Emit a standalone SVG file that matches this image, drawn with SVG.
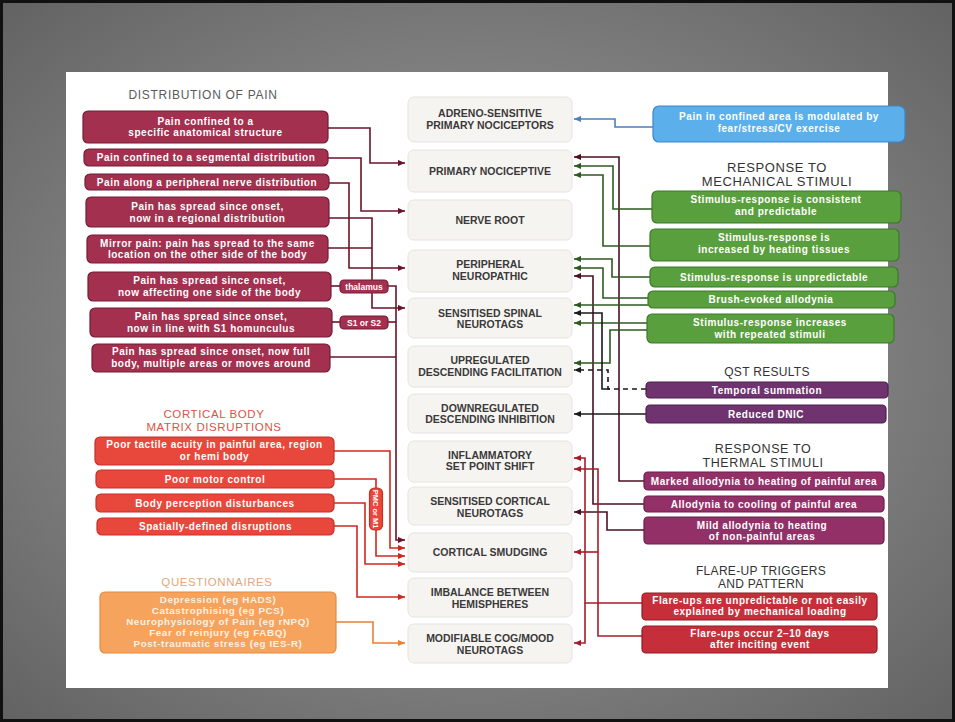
<svg xmlns="http://www.w3.org/2000/svg" width="955" height="722" viewBox="0 0 955 722">
<defs>
<radialGradient id="bg" cx="50%" cy="50%" r="75%">
<stop offset="0" stop-color="#a4a4a4"/>
<stop offset="1" stop-color="#5e5e5e"/>
</radialGradient>
<marker id="aMar" viewBox="0 0 8 8" refX="8" refY="4" markerWidth="7" markerHeight="7" markerUnits="userSpaceOnUse" orient="auto"><path d="M0,0.5 L8,4 L0,7.5 z" fill="#6a1428"/></marker>
<marker id="aRed" viewBox="0 0 8 8" refX="8" refY="4" markerWidth="7" markerHeight="7" markerUnits="userSpaceOnUse" orient="auto"><path d="M0,0.5 L8,4 L0,7.5 z" fill="#d0281f"/></marker>
<marker id="aOra" viewBox="0 0 8 8" refX="8" refY="4" markerWidth="7" markerHeight="7" markerUnits="userSpaceOnUse" orient="auto"><path d="M0,0.5 L8,4 L0,7.5 z" fill="#e8803a"/></marker>
<marker id="aBlu" viewBox="0 0 8 8" refX="8" refY="4" markerWidth="7" markerHeight="7" markerUnits="userSpaceOnUse" orient="auto"><path d="M0,0.5 L8,4 L0,7.5 z" fill="#4a80c0"/></marker>
<marker id="aGrn" viewBox="0 0 8 8" refX="8" refY="4" markerWidth="7" markerHeight="7" markerUnits="userSpaceOnUse" orient="auto"><path d="M0,0.5 L8,4 L0,7.5 z" fill="#2d5a1f"/></marker>
<marker id="aDk" viewBox="0 0 8 8" refX="8" refY="4" markerWidth="7" markerHeight="7" markerUnits="userSpaceOnUse" orient="auto"><path d="M0,0.5 L8,4 L0,7.5 z" fill="#4a1020"/></marker>
<marker id="aFr" viewBox="0 0 8 8" refX="8" refY="4" markerWidth="7" markerHeight="7" markerUnits="userSpaceOnUse" orient="auto"><path d="M0,0.5 L8,4 L0,7.5 z" fill="#a81c2a"/></marker>
<marker id="aBlk" viewBox="0 0 8 8" refX="8" refY="4" markerWidth="7" markerHeight="7" markerUnits="userSpaceOnUse" orient="auto"><path d="M0,0.5 L8,4 L0,7.5 z" fill="#1a1a1a"/></marker>
<style>
text{font-family:"Liberation Sans",Arial,sans-serif;text-anchor:middle}
.bt{fill:#ffffff;font-size:10px;font-weight:700;letter-spacing:0.55px}
.qt{fill:#fff1e2;font-size:9.8px;font-weight:700;letter-spacing:0.6px}
.ct{fill:#3a3a3a;font-size:10.5px;font-weight:700}
.hd{font-size:11.5px;font-weight:400;letter-spacing:0.6px}
.hr{font-size:12.5px;font-weight:400;letter-spacing:0.6px;fill:#333333}
.lb{fill:#ffffff;font-size:8.5px;font-weight:700}
.cb{fill:#f6f4f1;stroke:#e6e3de;stroke-width:1}
.mar{fill:#a3304e;stroke:#741c36;stroke-width:1.2}
.red{fill:#e8473b;stroke:#c5302a;stroke-width:1.2}
.ora{fill:#f6a35e;stroke:#e48a42;stroke-width:1.2}
.blu{fill:#5bb0ec;stroke:#3c86c6;stroke-width:1.2}
.grn{fill:#5a9f3e;stroke:#3b7a28;stroke-width:1.2}
.pur{fill:#6f346f;stroke:#4c1e50;stroke-width:1.2}
.mag{fill:#943068;stroke:#6c1c4a;stroke-width:1.2}
.fla{fill:#c62f3a;stroke:#931c26;stroke-width:1.2}
.c{fill:none;stroke-width:1.6}
.cMar{stroke:#6a1428;marker-end:url(#aMar)}
.cRed{stroke:#d0281f;marker-end:url(#aRed)}
.cOra{stroke:#e8803a;marker-end:url(#aOra)}
.cBlu{stroke:#4a80c0;marker-end:url(#aBlu)}
.cGrn{stroke:#2d5a1f;marker-end:url(#aGrn)}
.cDk{stroke:#4a1020;marker-end:url(#aDk)}
.cFr{stroke:#a81c2a;marker-end:url(#aFr)}
.cBlk{stroke:#1a1a1a;marker-end:url(#aBlk)}
.plain{marker-end:none}
</style>
</defs>

<rect x="0" y="0" width="955" height="722" fill="url(#bg)"/>
<rect x="1.5" y="1.5" width="952" height="719" fill="none" stroke="#111" stroke-width="3"/>
<rect x="66" y="72" width="822" height="616" fill="#ffffff"/>

<!-- headers -->
<g id="headers">
<text class="hd" x="203" y="98.5" fill="#5a5a5a" style="font-size:12px;letter-spacing:0.7px">DISTRIBUTION OF PAIN</text>
<text class="hd" x="214" y="417.5" fill="#d8553f">CORTICAL BODY<tspan x="214" dy="13">MATRIX DISRUPTIONS</tspan></text>
<text class="hd" x="217" y="585.5" fill="#e3a77c">QUESTIONNAIRES</text>
<text class="hr" x="777" y="171.5" style="font-size:13px">RESPONSE TO<tspan x="777" dy="14.6">MECHANICAL STIMULI</tspan></text>
<text class="hr" x="767" y="375.5" style="font-size:12px;letter-spacing:0.3px">QST RESULTS</text>
<text class="hr" x="763" y="453">RESPONSE TO<tspan x="763" dy="14">THERMAL STIMULI</tspan></text>
<text class="hr" x="761" y="574.5" style="font-size:12px;letter-spacing:0.3px">FLARE-UP TRIGGERS<tspan x="761" dy="13.5">AND PATTERN</tspan></text>
</g>

<!-- connectors -->
<g id="connectors">
<path class="c cMar" d="M328,128 H370 V163 H405"/>
<path class="c cMar" d="M328,158 H361 V211 H405"/>
<path class="c cMar" d="M329,183 H349 V268 H405"/>
<path class="c cMar" d="M329,218 H372 V308 H405"/>
<path class="c cMar plain" d="M328,248 H372"/>
<path class="c cMar plain" d="M331,286 H340"/>
<path class="c cMar plain" d="M332,322 H340"/>
<path class="c cMar" d="M388,286 H396 V540 H405"/>
<path class="c cMar plain" d="M388,322 H396"/>
<path class="c cMar plain" d="M330,357 H396"/>

<path class="c cRed" d="M334,451 H390 V548 H405"/>
<path class="c cRed" d="M334,479 H376 V556 H405"/>
<path class="c cRed" d="M334,503 H365 V564 H405"/>
<path class="c cRed" d="M334,526 H357 V597 H405"/>
<path class="c cOra" d="M336,622 H373 V643 H405"/>

<path class="c cBlu" d="M653,127 H615 V119 H574"/>

<path class="c cDk" d="M644,481 H619 V157 H574"/>
<path class="c cDk" d="M644,504 H593 V276 H574"/>
<path class="c cDk" d="M644,530 H607 V512 H574"/>

<path class="c cFr" d="M642,603 H585 V458 H574"/>
<path class="c cFr" d="M585,603 V643 H574"/>
<path class="c cFr" d="M642,636 H598 V469 H574"/>
<path class="c cFr" d="M598,552 H574"/>

<path class="c cGrn" d="M652,209 H613 V166 H574"/>
<path class="c cGrn" d="M650,246 H603 V175 H574"/>
<path class="c cGrn" d="M650,277 H612 V259 H574"/>
<path class="c cGrn" d="M648,298 H603 V268 H574"/>
<path class="c cGrn" d="M648,305 H574"/>
<path class="c cGrn" d="M647,323 H574"/>
<path class="c cGrn" d="M647,330 H610 V363 H574"/>

<path class="c cBlk" d="M610,389 H602 V313 H574"/>
<path class="c cBlk" d="M646,389 H608 V370 H574" stroke-dasharray="5,4"/>
<path class="c cBlk" d="M646,414 H574"/>
</g>

<!-- left: distribution of pain -->
<g id="L1"><rect class="mar" x="83" y="111" width="245" height="32" rx="5"/><text class="bt" x="205.5" y="124.5">Pain confined to a<tspan x="205.5" dy="11.2">specific anatomical structure</tspan></text></g>
<g id="L2"><rect class="mar" x="84" y="149" width="244" height="17" rx="5"/><text class="bt" x="206" y="161.3">Pain confined to a segmental distribution</text></g>
<g id="L3"><rect class="mar" x="85" y="174" width="244" height="16" rx="5"/><text class="bt" x="207" y="185.8">Pain along a peripheral nerve distribution</text></g>
<g id="L4"><rect class="mar" x="86" y="197" width="243" height="30" rx="5"/><text class="bt" x="207.5" y="210.3">Pain has spread since onset,<tspan x="207.5" dy="11.2">now in a regional distribution</tspan></text></g>
<g id="L5"><rect class="mar" x="87" y="235" width="241" height="28" rx="5"/><text class="bt" x="207.5" y="246.5">Mirror pain: pain has spread to the same<tspan x="207.5" dy="11.2">location on the other side of the body</tspan></text></g>
<g id="L6"><rect class="mar" x="88" y="272" width="243" height="29" rx="5"/><text class="bt" x="209.5" y="284.3">Pain has spread since onset,<tspan x="209.5" dy="11.2">now affecting one side of the body</tspan></text></g>
<g id="L7"><rect class="mar" x="90" y="308" width="242" height="29" rx="5"/><text class="bt" x="211" y="320.3">Pain has spread since onset,<tspan x="211" dy="11.2">now in line with S1 homunculus</tspan></text></g>
<g id="L8"><rect class="mar" x="92" y="344" width="238" height="28" rx="5"/><text class="bt" x="211" y="355.3">Pain has spread since onset, now full<tspan x="211" dy="11.2">body, multiple areas or moves around</tspan></text></g>
<g id="thalamus"><rect class="mar" x="340" y="280" width="48" height="13" rx="4"/><text class="lb" x="364" y="289.5">thalamus</text></g>
<g id="s1s2"><rect class="mar" x="340" y="316" width="48" height="13" rx="4"/><text class="lb" x="364" y="325.5">S1 or S2</text></g>

<!-- cortical body matrix -->
<g id="C1"><rect class="red" x="95" y="437" width="239" height="28" rx="5"/><text class="bt" x="214.5" y="448.3">Poor tactile acuity in painful area, region<tspan x="214.5" dy="11.2">or hemi body</tspan></text></g>
<g id="C2"><rect class="red" x="96" y="470" width="238" height="18" rx="5"/><text class="bt" x="215" y="482.8">Poor motor control</text></g>
<g id="C3"><rect class="red" x="96" y="494" width="238" height="18" rx="5"/><text class="bt" x="215" y="506.8">Body perception disturbances</text></g>
<g id="C4"><rect class="red" x="97" y="518" width="237" height="17" rx="5"/><text class="bt" x="215.5" y="530.3">Spatially-defined disruptions</text></g>
<g id="pmc"><rect class="red" x="369.5" y="488" width="13" height="42" rx="5"/><text class="lb" style="font-size:7.5px" transform="translate(373.3,509) rotate(90)">PMC or M1</text></g>

<!-- questionnaires -->
<g id="Q1"><rect class="ora" x="100" y="592" width="236" height="61" rx="5"/>
<text class="qt" x="218" y="603.2">Depression (eg HADS)<tspan x="218" dy="11">Catastrophising (eg PCS)</tspan><tspan x="218" dy="11">Neurophysiology of Pain (eg rNPQ)</tspan><tspan x="218" dy="11">Fear of reinjury (eg FABQ)</tspan><tspan x="218" dy="11">Post-traumatic stress (eg IES-R)</tspan></text></g>

<!-- centre column -->
<g id="A"><rect class="cb" x="408" y="97" width="164" height="45" rx="6"/><text class="ct" x="490" y="117">ADRENO-SENSITIVE<tspan x="490" dy="12">PRIMARY NOCICEPTORS</tspan></text></g>
<g id="B"><rect class="cb" x="408" y="150" width="164" height="42" rx="6"/><text class="ct" x="490" y="174.5">PRIMARY NOCICEPTIVE</text></g>
<g id="Cn"><rect class="cb" x="408" y="200" width="164" height="40" rx="6"/><text class="ct" x="490" y="223.5">NERVE ROOT</text></g>
<g id="D"><rect class="cb" x="408" y="250" width="164" height="42" rx="6"/><text class="ct" x="490" y="267.5">PERIPHERAL<tspan x="490" dy="12">NEUROPATHIC</tspan></text></g>
<g id="E"><rect class="cb" x="408" y="298" width="164" height="40" rx="6"/><text class="ct" x="490" y="316.5">SENSITISED SPINAL<tspan x="490" dy="11.8">NEUROTAGS</tspan></text></g>
<g id="F"><rect class="cb" x="408" y="346" width="164" height="41" rx="6"/><text class="ct" x="490" y="364">UPREGULATED<tspan x="490" dy="11.8">DESCENDING FACILITATION</tspan></text></g>
<g id="G"><rect class="cb" x="408" y="394" width="164" height="39" rx="6"/><text class="ct" x="490" y="411.5">DOWNREGULATED<tspan x="490" dy="11.8">DESCENDING INHIBITION</tspan></text></g>
<g id="H"><rect class="cb" x="408" y="441" width="164" height="41" rx="6"/><text class="ct" x="490" y="458.5">INFLAMMATORY<tspan x="490" dy="11.8">SET POINT SHIFT</tspan></text></g>
<g id="I"><rect class="cb" x="408" y="487" width="164" height="38" rx="6"/><text class="ct" x="490" y="505">SENSITISED CORTICAL<tspan x="490" dy="11.8">NEUROTAGS</tspan></text></g>
<g id="J"><rect class="cb" x="408" y="533" width="164" height="39" rx="6"/><text class="ct" x="490" y="556">CORTICAL SMUDGING</text></g>
<g id="K"><rect class="cb" x="408" y="578" width="164" height="39" rx="6"/><text class="ct" x="490" y="596">IMBALANCE BETWEEN<tspan x="490" dy="11.8">HEMISPHERES</tspan></text></g>
<g id="Lm"><rect class="cb" x="408" y="624" width="164" height="39" rx="6"/><text class="ct" x="490" y="642">MODIFIABLE COG/MOOD<tspan x="490" dy="11.8">NEUROTAGS</tspan></text></g>

<!-- right column -->
<g id="BL"><rect class="blu" x="653" y="106" width="252" height="36" rx="6"/><text class="bt" x="779" y="120.3">Pain in confined area is modulated by<tspan x="779" dy="11.5">fear/stress/CV exercise</tspan></text></g>
<g id="G1"><rect class="grn" x="652" y="191" width="249" height="32" rx="5"/><text class="bt" x="776" y="203">Stimulus-response is consistent<tspan x="776" dy="11.5">and predictable</tspan></text></g>
<g id="G2"><rect class="grn" x="650" y="229" width="249" height="32" rx="5"/><text class="bt" x="774" y="241.3">Stimulus-response is<tspan x="774" dy="11.5">increased by heating tissues</tspan></text></g>
<g id="G3"><rect class="grn" x="650" y="267" width="248" height="20" rx="5"/><text class="bt" x="774" y="280.5">Stimulus-response is unpredictable</text></g>
<g id="G4"><rect class="grn" x="648" y="291" width="247" height="17" rx="5"/><text class="bt" x="771" y="303.3">Brush-evoked allodynia</text></g>
<g id="G5"><rect class="grn" x="647" y="314" width="247" height="29" rx="5"/><text class="bt" x="770" y="326.3">Stimulus-response increases<tspan x="770" dy="11.2">with repeated stimuli</tspan></text></g>
<g id="P1"><rect class="pur" x="646" y="382" width="242" height="16" rx="4"/><text class="bt" x="767" y="393.8">Temporal summation</text></g>
<g id="P2"><rect class="pur" x="646" y="405" width="240" height="18" rx="4"/><text class="bt" x="766" y="417.8">Reduced DNIC</text></g>
<g id="M1"><rect class="mag" x="644" y="472" width="240" height="18" rx="4"/><text class="bt" x="764" y="484.8">Marked allodynia to heating of painful area</text></g>
<g id="M2"><rect class="mag" x="644" y="496" width="240" height="16" rx="4"/><text class="bt" x="764" y="507.8">Allodynia to cooling of painful area</text></g>
<g id="M3"><rect class="mag" x="644" y="517" width="240" height="27" rx="4"/><text class="bt" x="762" y="528.8">Mild allodynia to heating<tspan x="762" dy="11.2">of non-painful areas</tspan></text></g>
<g id="R1"><rect class="fla" x="642" y="593" width="235" height="27" rx="4"/><text class="bt" x="760" y="604">Flare-ups are unpredictable or not easily<tspan x="760" dy="11.2">explained by mechanical loading</tspan></text></g>
<g id="R2"><rect class="fla" x="642" y="626" width="235" height="27" rx="4"/><text class="bt" x="760" y="637">Flare-ups occur 2–10 days<tspan x="760" dy="11.2">after inciting event</tspan></text></g>
</svg>
